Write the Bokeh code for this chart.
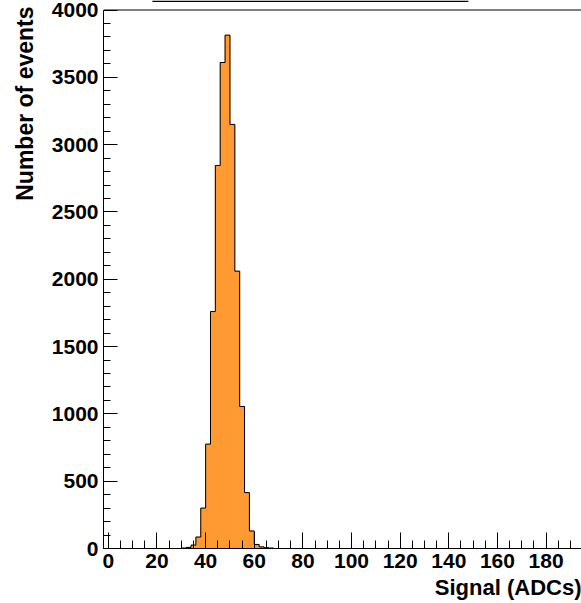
from bokeh.plotting import figure
from bokeh.models import Range1d, SingleIntervalTicker, Span, Title
from bokeh.embed import file_html
from bokeh.resources import INLINE

# ---- data ----
bin_width = 2
bin_low = [30, 32, 34, 36, 38, 40, 42, 44, 46, 48, 50, 52, 54, 56, 58, 60, 62, 64, 66]
counts = [3, 8, 25, 85, 300, 775, 1760, 2845, 3610, 3813, 3150, 2060, 1055, 415, 130, 30, 12, 6, 3]
x_title = "Signal (ADCs)"
y_title = "Number of events"

FONT = "Liberation Sans"
W, H = 581, 603
BL, BT, BB = 103, 0, 55
X0 = -2.0
PX_PER_X = 2.4317
FRAME_TOP_GAP = 9.5          # px between canvas top and the y=4000 line
Y_MAX = 4000
frame_w = W - BL
frame_h = H - BT - BB
px_per_y = (frame_h - FRAME_TOP_GAP) / Y_MAX
x_end = X0 + frame_w / PX_PER_X
y_end = Y_MAX + FRAME_TOP_GAP / px_per_y

p = figure(width=W, height=H, output_backend="svg", toolbar_location=None,
           x_range=Range1d(X0, x_end), y_range=Range1d(0, y_end),
           min_border_left=BL, min_border_right=0, min_border_top=BT, min_border_bottom=BB)
p.grid.visible = False
p.outline_line_color = None
p.background_fill_color = "white"
p.border_fill_color = "white"

ORANGE = "#FF9A33"
bin_high = [b + bin_width for b in bin_low]
p.quad(left=bin_low, right=bin_high, bottom=0, top=counts,
       fill_color=ORANGE, line_color=ORANGE, line_width=1)
step_x = [X0] + bin_low + [bin_high[-1], x_end]
step_y = [0] + counts + [0, 0]
p.step(step_x, step_y, mode="after", line_color="black", line_width=1)

# top frame border at y = 4000
p.add_layout(Span(location=Y_MAX, dimension="width", line_color="black", line_width=1))
# bottom edge of the (cut off) title box above the frame
p.quad(left=[(152 - 108) / PX_PER_X], right=[(468 - 108) / PX_PER_X],
       bottom=[y_end - 1.6 / px_per_y], top=[y_end],
       fill_color="black", line_color=None)

# axes styling (ROOT-like inward ticks)
xa = p.xaxis[0]
xa.ticker = SingleIntervalTicker(interval=20, num_minor_ticks=4)
xa.major_tick_in = 16
xa.major_tick_out = 0
xa.minor_tick_in = 8
xa.minor_tick_out = 0
ya = p.yaxis[0]
ya.ticker = SingleIntervalTicker(interval=500, num_minor_ticks=5)
ya.bounds = (0, Y_MAX)
ya.major_tick_in = 14
ya.major_tick_out = 0
ya.minor_tick_in = 7
ya.minor_tick_out = 0
for ax in (xa, ya):
    ax.axis_line_color = "black"
    ax.major_tick_line_color = "black"
    ax.minor_tick_line_color = "black"
    ax.major_label_text_font = FONT
    ax.major_label_text_font_style = "bold"
    ax.major_label_text_font_size = "21px"
    ax.major_label_text_color = "black"
xa.major_label_standoff = 5
ya.major_label_standoff = 5

# axis titles as side-panel titles, aligned to the far ends (ROOT style)
tx = Title(text=x_title, align="right", vertical_align="bottom",
           text_font=FONT, text_font_style="bold", text_font_size="22px", text_color="black")
ty = Title(text=y_title, align="right", vertical_align="top",
           text_font=FONT, text_font_style="bold", text_font_size="23px", text_color="black")
for t, so, off in ((tx, 4, 0), (ty, 18, 6)):
    try:
        t.standoff = so
    except Exception:
        pass
    t.offset = off
p.add_layout(tx, "below")
p.add_layout(ty, "left")

open("out.html", "w").write(file_html(p, INLINE))
